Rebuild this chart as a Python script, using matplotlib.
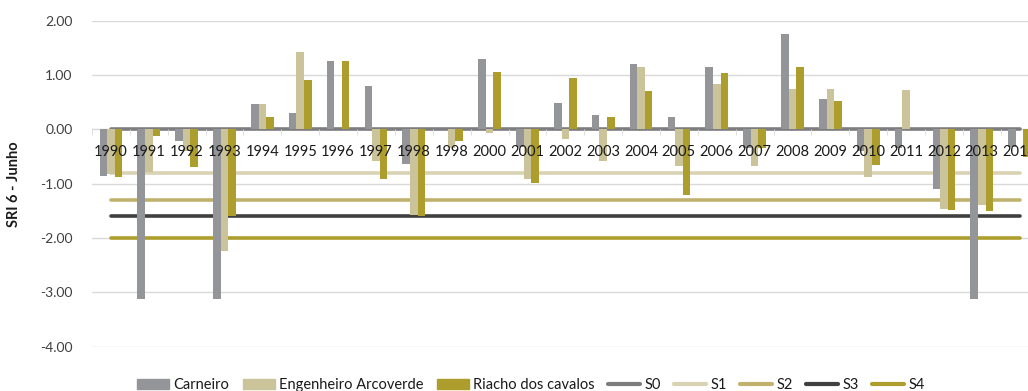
import matplotlib
matplotlib.use("Agg")
import matplotlib.pyplot as plt
import numpy as np
from matplotlib.patches import Patch
from matplotlib.lines import Line2D

plt.rcParams['font.family'] = ['Lato', 'DejaVu Sans']

years = ["1990", "1991", "1992", "1993", "1994", "1995", "1996", "1997", "1998",
         "1998", "2000", "2001", "2002", "2003", "2004", "2005", "2006", "2007",
         "2008", "2009", "2010", "2011", "2012", "2013", "2014"]

carneiro = [-0.85, -3.12, -0.22, -3.12, 0.47, 0.31, 1.26, 0.80, -0.63, 0.00,
            1.30, -0.32, 0.49, 0.27, 1.21, 0.23, 1.14, -0.35, 1.76, 0.56,
            -0.40, -0.34, -1.10, -3.12, -0.32]
arcoverde = [-0.82, -0.79, -0.40, -2.23, 0.47, 1.43, 0.00, -0.58, -1.57, -0.35,
             -0.07, -0.92, -0.18, -0.58, 1.15, -0.68, 0.84, -0.67, 0.75, 0.75,
             -0.88, 0.73, -1.47, -1.39, 0.00]
riacho = [-0.88, -0.12, -0.70, -1.59, 0.23, 0.90, 1.25, -0.92, -1.59, -0.21,
          1.06, -0.99, 0.95, 0.23, 0.71, -1.20, 1.03, -0.34, 1.15, 0.53,
          -0.66, 0.00, -1.49, -1.51, -0.50]

# drought thresholds
s_names = ["S0", "S1", "S2", "S3", "S4"]
s_levels = [0.0, -0.8, -1.3, -1.6, -2.0]
s_colors = ["#7d7d80", "#d9d3b4", "#c0b26e", "#404040", "#ae9e2d"]

bar_names = ["Carneiro", "Engenheiro Arcoverde", "Riacho dos cavalos"]
bar_colors = ["#949599", "#cbc49b", "#ad9d2d"]

fig = plt.figure(figsize=(10.28, 3.91), dpi=100)
ax = fig.add_axes([0.0895, 0.1133, 0.9208, 0.8338])

x = np.arange(len(years))
w = 0.2

for lvl, col in zip(s_levels, s_colors):
    ax.plot(x, np.full(len(x), lvl), color=col, lw=2.6,
            solid_capstyle='round', zorder=2)

for i, (vals, col) in enumerate(zip([carneiro, arcoverde, riacho], bar_colors)):
    ax.bar(x + (i - 1) * w, vals, width=w, color=col, zorder=3)

ax.set_xlim(-0.5, len(years) - 0.5)
ax.set_ylim(-4, 2)
ax.set_yticks(np.arange(-4, 2.5, 1))
ax.set_yticklabels([f"{v:.2f}" for v in np.arange(-4, 2.5, 1)])
ax.yaxis.grid(True, color="#d9d9d9", lw=1)
ax.yaxis.set_zorder(0.5)
ax.tick_params(axis='y', length=0, pad=14, labelsize=10, labelcolor="#404040")

for s in ["top", "right", "left"]:
    ax.spines[s].set_visible(False)
ax.spines["bottom"].set_position(("data", 0))
ax.spines["bottom"].set_color("#d9d9d9")
ax.spines["bottom"].set_zorder(1)

# year labels sit on top of the bars
ax.set_xticks(x)
ax.set_xticklabels(years)
ax.set_xticks(np.arange(-0.5, len(years), 1), minor=True)
ax.xaxis.set_zorder(5)
ax.tick_params(axis='x', which='major', length=0, pad=11, labelsize=10.5,
               labelcolor="#1a1a1a")
ax.tick_params(axis='x', which='minor', length=4, color="#d9d9d9")

ax.set_ylabel("SRI 6 - Junho", fontsize=10.5, fontweight='bold',
              color="#1a1a1a", labelpad=14)

handles = [Patch(color=c) for c in bar_colors] + \
          [Line2D([0], [0], color=c, lw=3, solid_capstyle='round') for c in s_colors]
labels = bar_names + s_names
fig.legend(handles, labels, ncol=8, loc='center',
           bbox_to_anchor=(531 / 1028, 1 - 385 / 391), frameon=False,
           fontsize=10.5, handlelength=2.2, handletextpad=0.3,
           columnspacing=0.9, labelcolor="#1a1a1a")

fig.savefig("out.png", dpi=100)
